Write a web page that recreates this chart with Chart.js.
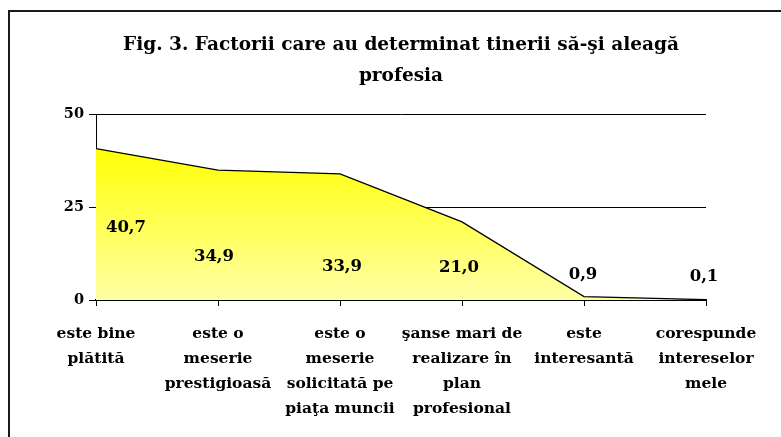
<!DOCTYPE html>
<html>
<head>
<meta charset="utf-8">
<script src="https://cdn.jsdelivr.net/npm/chart.js@4.4.1/dist/chart.umd.min.js"></script>
<style>
    body { margin: 0; background: #fff; overflow: hidden; }
    .frame { position: absolute; left: 8px; top: 10px; width: 820px; height: 480px; border: 2px solid #1a1a1a; }
    .chart-box { position: absolute; left: 0; top: 0; width: 781px; height: 437px; }
</style>
</head>
<body>
<div class="frame"></div>
<div class="chart-box"><canvas id="graph" width="781" height="437"></canvas></div>
<script>
// --- DATA ---
const titleLines = ['Fig. 3. Factorii care au determinat tinerii să-şi aleagă', 'profesia'];
const categories = [
    ['este bine', 'plătită'],
    ['este o', 'meserie', 'prestigioasă'],
    ['este o', 'meserie', 'solicitată pe', 'piaţa muncii'],
    ['şanse mari de', 'realizare în', 'plan', 'profesional'],
    ['este', 'interesantă'],
    ['corespunde', 'intereselor', 'mele']
];
const percents = [40.7, 34.9, 33.9, 21.0, 0.9, 0.1];
const yTicks = [0, 25, 50];

const serif = '"DejaVu Serif", "Liberation Serif", serif';

// value labels sit inside the area, like in the Excel original
const valueLabels = {
    id: 'valueLabels',
    afterDatasetsDraw(chart, args, opts) {
        let ctx = chart.ctx;
        let meta = chart.getDatasetMeta(0);
        ctx.save();
        ctx.font = 'bold 16.5px ' + serif;
        ctx.fillStyle = '#000';
        ctx.textAlign = 'center';
        ctx.textBaseline = 'middle';
        meta.data.forEach((pt, i) => {
            let off = opts.offsets[i];
            let txt = percents[i].toFixed(1).replace('.', ',');
            ctx.fillText(txt, pt.x + off[0], pt.y + off[1]);
        });
        ctx.restore();
    }
};

let canvas = document.getElementById('graph').getContext('2d');

new Chart(canvas, {
    type: 'line',
    data: {
        labels: categories,
        datasets: [{
            data: percents,
            borderColor: '#000',
            borderWidth: 1.3,
            pointRadius: 0,
            tension: 0,
            fill: 'origin',
            backgroundColor: function(context) {
                let area = context.chart.chartArea;
                if (!area) return '#ffff40';
                let g = context.chart.ctx.createLinearGradient(0, area.top + 30, 0, area.bottom);
                g.addColorStop(0, '#ffff00');
                g.addColorStop(1, '#ffffa6');
                return g;
            }
        }]
    },
    options: {
        responsive: false,
        animation: false,
        layout: { padding: { left: 0, right: 75, top: 0, bottom: 0 } },
        plugins: {
            legend: { display: false },
            tooltip: { enabled: false },
            title: {
                display: true,
                fullSize: false,
                text: titleLines,
                color: '#000',
                font: { family: serif, size: 18.5, weight: 'bold', lineHeight: '31px' },
                padding: { top: 30, bottom: 22 }
            },
            valueLabels: {
                offsets: [[30, 79], [-4, 87], [2, 93], [-3, 46], [-1, -22], [-2, -23]]
            }
        },
        scales: {
            x: {
                offset: false,
                grid: { display: true, drawOnChartArea: false, color: '#000', tickLength: 6, lineWidth: 1 },
                border: { display: true, color: '#000', width: 2 },
                ticks: {
                    color: '#000',
                    autoSkip: false,
                    maxRotation: 0,
                    padding: 15,
                    font: { family: serif, size: 15.5, weight: 'bold', lineHeight: '25px' }
                },
                afterFit: (scale) => { scale.height = 137; }
            },
            y: {
                min: 0,
                max: 50,
                afterBuildTicks: (scale) => { scale.ticks = yTicks.map(v => ({ value: v })); },
                grid: { color: '#000', lineWidth: 1, tickLength: 7 },
                border: { display: true, color: '#000', width: 1 },
                ticks: {
                    color: '#000',
                    padding: 5,
                    font: { family: serif, size: 14.5, weight: 'bold' }
                },
                afterFit: (scale) => { scale.width = 96; }
            }
        }
    },
    plugins: [valueLabels]
});
</script>
</body>
</html>
